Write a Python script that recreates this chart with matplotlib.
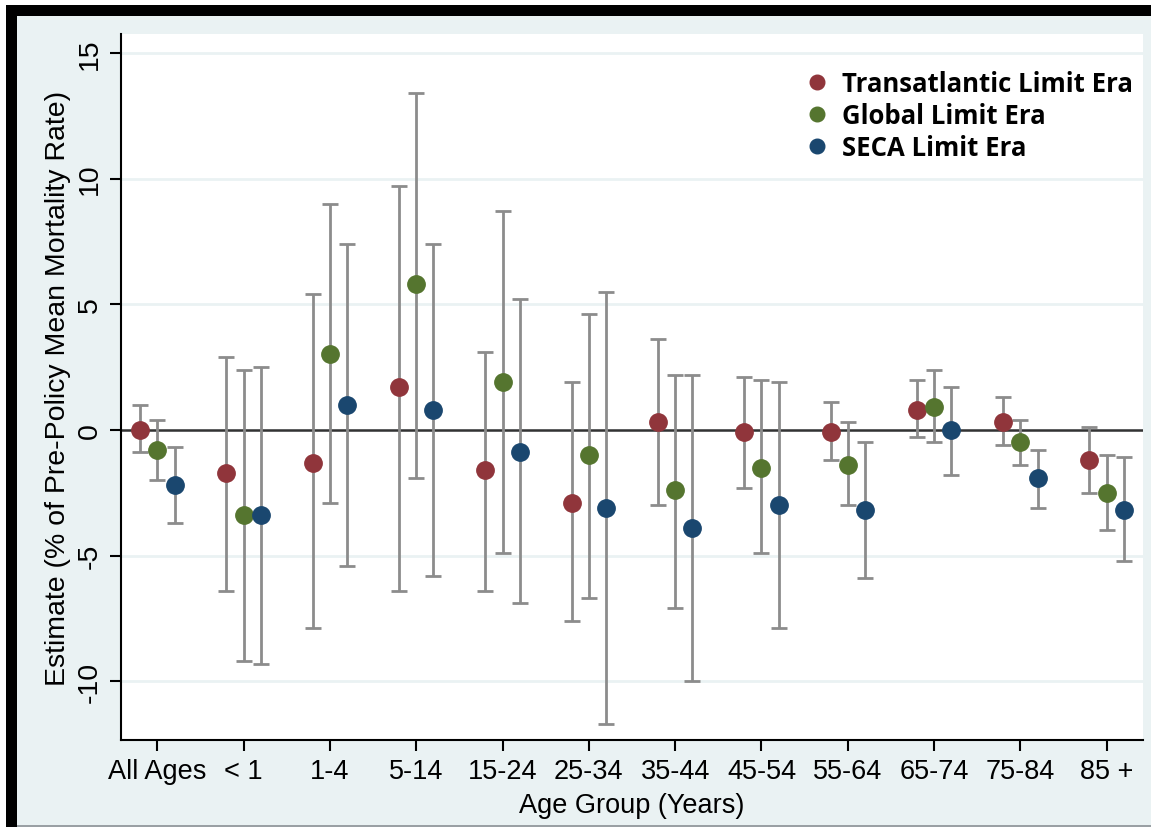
import numpy as np
import matplotlib
matplotlib.use("Agg")
import matplotlib.pyplot as plt
from matplotlib.lines import Line2D
from matplotlib.patches import Rectangle

# age groups along the x axis
groups = ["All Ages", "< 1", "1-4", "5-14", "15-24", "25-34", "35-44",
          "45-54", "55-64", "65-74", "75-84", "85 +"]

# point estimates and 95% CI bounds, % of pre-policy mean mortality rate
trans_est = [0.0, -1.7, -1.3, 1.7, -1.6, -2.9, 0.3, -0.1, -0.1, 0.8, 0.3, -1.2]
trans_lo = [-0.9, -6.4, -7.9, -6.4, -6.4, -7.6, -3.0, -2.3, -1.2, -0.3, -0.6, -2.5]
trans_hi = [1.0, 2.9, 5.4, 9.7, 3.1, 1.9, 3.6, 2.1, 1.1, 2.0, 1.3, 0.1]

glob_est = [-0.8, -3.4, 3.0, 5.8, 1.9, -1.0, -2.4, -1.5, -1.4, 0.9, -0.5, -2.5]
glob_lo = [-2.0, -9.2, -2.9, -1.9, -4.9, -6.7, -7.1, -4.9, -3.0, -0.5, -1.4, -4.0]
glob_hi = [0.4, 2.4, 9.0, 13.4, 8.7, 4.6, 2.2, 2.0, 0.3, 2.4, 0.4, -1.0]

seca_est = [-2.2, -3.4, 1.0, 0.8, -0.9, -3.1, -3.9, -3.0, -3.2, 0.0, -1.9, -3.2]
seca_lo = [-3.7, -9.3, -5.4, -5.8, -6.9, -11.7, -10.0, -7.9, -5.9, -1.8, -3.1, -5.2]
seca_hi = [-0.7, 2.5, 7.4, 7.4, 5.2, 5.5, 2.2, 1.9, -0.5, 1.7, -0.8, -1.1]

series = [
    ("Transatlantic Limit Era", "#90353b", trans_est, trans_lo, trans_hi, -0.2),
    ("Global Limit Era", "#55752f", glob_est, glob_lo, glob_hi, 0.0),
    ("SECA Limit Era", "#1a476f", seca_est, seca_lo, seca_hi, 0.2),
]

bg = "#eaf2f3"
W, H = 1151, 828
fig = plt.figure(figsize=(W / 100, H / 100), dpi=100, facecolor="white")

# frame: black edge on left/top, pale background panel
fig.patches.append(Rectangle((6 / W, 0), 1 - 6 / W, 1 - 6 / H, transform=fig.transFigure,
                             facecolor="black", edgecolor="none", zorder=-3))
fig.patches.append(Rectangle((17 / W, 0), 1 - 17 / W, 1 - 17 / H,
                             transform=fig.transFigure, facecolor="#9aa0a4", edgecolor="none",
                             zorder=-2))
fig.patches.append(Rectangle((17 / W, 2 / H), 1 - 17 / W, 1 - 17 / H - 2 / H,
                             transform=fig.transFigure, facecolor=bg, edgecolor="none",
                             zorder=-1))

ax = fig.add_axes([121 / W, 1 - 741 / H, (1143 - 121) / W, (741 - 35) / H])
ax.set_facecolor("white")

x = np.arange(1, len(groups) + 1)
for name, col, est, lo, hi, off in series:
    est = np.array(est)
    yerr = [est - np.array(lo), np.array(hi) - est]
    ax.errorbar(x + off, est, yerr=yerr, fmt="o", color=col, ms=12.5, mec=col,
                ecolor="#8c8c8c", elinewidth=2.0, capsize=5.5, capthick=2.0, zorder=3)

ax.axhline(0, color="#333333", lw=1.8, zorder=2)
ax.set_xlim(0.58, 12.42)
ax.set_ylim(-12.34, 15.75)
ax.set_yticks([-10, -5, 0, 5, 10, 15])
ax.set_yticklabels(["-10", "-5", "0", "5", "10", "15"], rotation=90, va="center")
ax.set_xticks(x)
ax.set_xticklabels(groups)
ax.yaxis.grid(True, color=bg, lw=2)
ax.set_axisbelow(True)

for s in ["top", "right"]:
    ax.spines[s].set_visible(False)
for s in ["left", "bottom"]:
    ax.spines[s].set_linewidth(1.5)
ax.tick_params(direction="out", length=8, width=1.5, labelsize=19.5, pad=5)
ax.tick_params(axis="y", labelsize=20.5)
for lab in ax.get_xticklabels() + ax.get_yticklabels():
    lab.set_fontfamily("Liberation Sans")

ax.set_ylabel("Estimate (% of Pre-Policy Mean Mortality Rate)", fontsize=20.5,
              fontfamily="Liberation Sans", labelpad=4)
ax.set_xlabel("Age Group (Years)", fontsize=19.5, fontfamily="Liberation Sans", labelpad=6)

handles = [Line2D([], [], ls="none", marker="o", color=c, ms=10.5) for _, c, *_ in series]
ax.legend(handles, [s[0] for s in series], loc="upper right", bbox_to_anchor=(1.0, 0.964),
          frameon=False, prop={"family": "Open Sans", "weight": "bold", "size": 18.5},
          handlelength=1.0, handletextpad=0.47, labelspacing=0.2, borderaxespad=0)

fig.savefig("out.png", dpi=100, facecolor=fig.get_facecolor())
